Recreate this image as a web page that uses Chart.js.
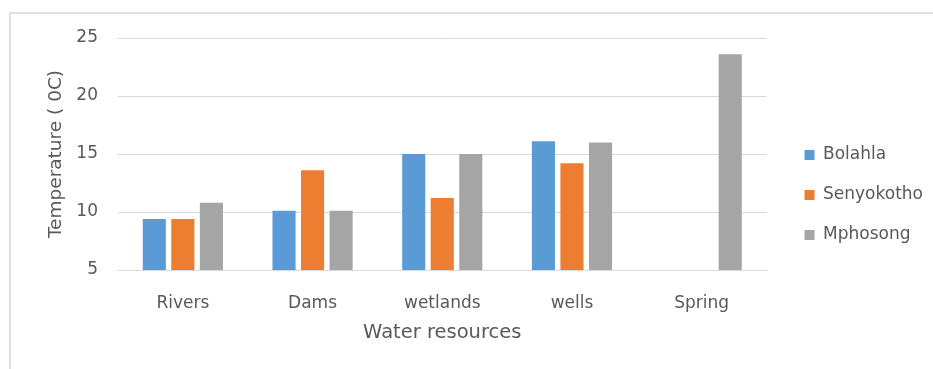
<!DOCTYPE html>
<html>
<head>
<meta charset="utf-8">
<script src="https://cdn.jsdelivr.net/npm/chart.js@4"></script>
<style>
  html, body { margin: 0; padding: 0; background: #fff; }
  #wrap { position: relative; width: 933px; height: 369px; overflow: hidden; }
  #frame {
    position: absolute; left: 9px; top: 12px; width: 960px; height: 400px;
    border-left: 2px solid #e0e0e0; border-top: 2px solid #e0e0e0;
  }
  #chart { position: absolute; left: 0; top: 0; }
</style>
</head>
<body>
<div id="wrap">
  <div id="frame"></div>
  <canvas id="chart" width="933" height="369"></canvas>
</div>
<script>
const categories = ['Rivers', 'Dams', 'wetlands', 'wells', 'Spring'];
const bolahla = [9.4, 10.1, 15.0, 16.1, null];
const senyokotho = [9.4, 13.6, 11.2, 14.2, null];
const mphosong = [10.8, 10.1, 15.0, 16.0, 23.6];
const yTicks = [5, 10, 15, 20, 25];

const textColor = '#595959';
const gridColor = '#d9d9d9';
const fontFamily = '"DejaVu Sans", sans-serif';

const ctx = document.getElementById('chart').getContext('2d');

function series(label, data, color) {
  return {
    label: label,
    data: data,
    backgroundColor: color,
    borderWidth: 0,
    categoryPercentage: 0.66,
    barPercentage: 0.81
  };
}

new Chart(ctx, {
  type: 'bar',
  data: {
    labels: categories,
    datasets: [
      series('Bolahla', bolahla, '#5b9bd5'),
      series('Senyokotho', senyokotho, '#ed7d31'),
      series('Mphosong', mphosong, '#a5a5a5')
    ]
  },
  options: {
    responsive: false,
    animation: false,
    layout: { padding: { left: 45, top: 38, right: 0, bottom: 17 } },
    plugins: {
      tooltip: { enabled: false },
      legend: {
        position: 'right',
        maxWidth: 153,
        labels: {
          color: textColor,
          font: { family: fontFamily, size: 17 },
          boxWidth: 10,
          boxHeight: 10,
          padding: 23
        }
      }
    },
    scales: {
      x: {
        grid: { display: false },
        border: { display: true, color: gridColor, width: 1 },
        ticks: {
          color: textColor,
          font: { family: fontFamily, size: 17 },
          padding: 15
        },
        title: {
          display: true,
          text: 'Water resources',
          color: textColor,
          font: { family: fontFamily, size: 19.5 },
          padding: { top: 0, bottom: 7 }
        },
        afterFit: function (scale) { scale.height = 82; }
      },
      y: {
        min: yTicks[0],
        max: yTicks[yTicks.length - 1],
        afterBuildTicks: function (scale) {
          scale.ticks = yTicks.map(function (v) { return { value: v }; });
        },
        grid: { color: gridColor, lineWidth: 1, drawTicks: false },
        border: { display: false },
        ticks: {
          color: textColor,
          font: { family: fontFamily, size: 17 },
          padding: 20
        },
        title: {
          display: true,
          text: 'Temperature ( 0C)',
          color: textColor,
          font: { family: fontFamily, size: 18.5 },
          padding: 0
        },
        afterFit: function (scale) { scale.width = 73; }
      },
      gap: {
        type: 'linear',
        position: 'right',
        min: 0,
        max: 1,
        grid: { display: false },
        border: { display: false },
        ticks: { display: false },
        afterFit: function (scale) { scale.width = 15; }
      }
    }
  }
});
</script>
</body>
</html>
